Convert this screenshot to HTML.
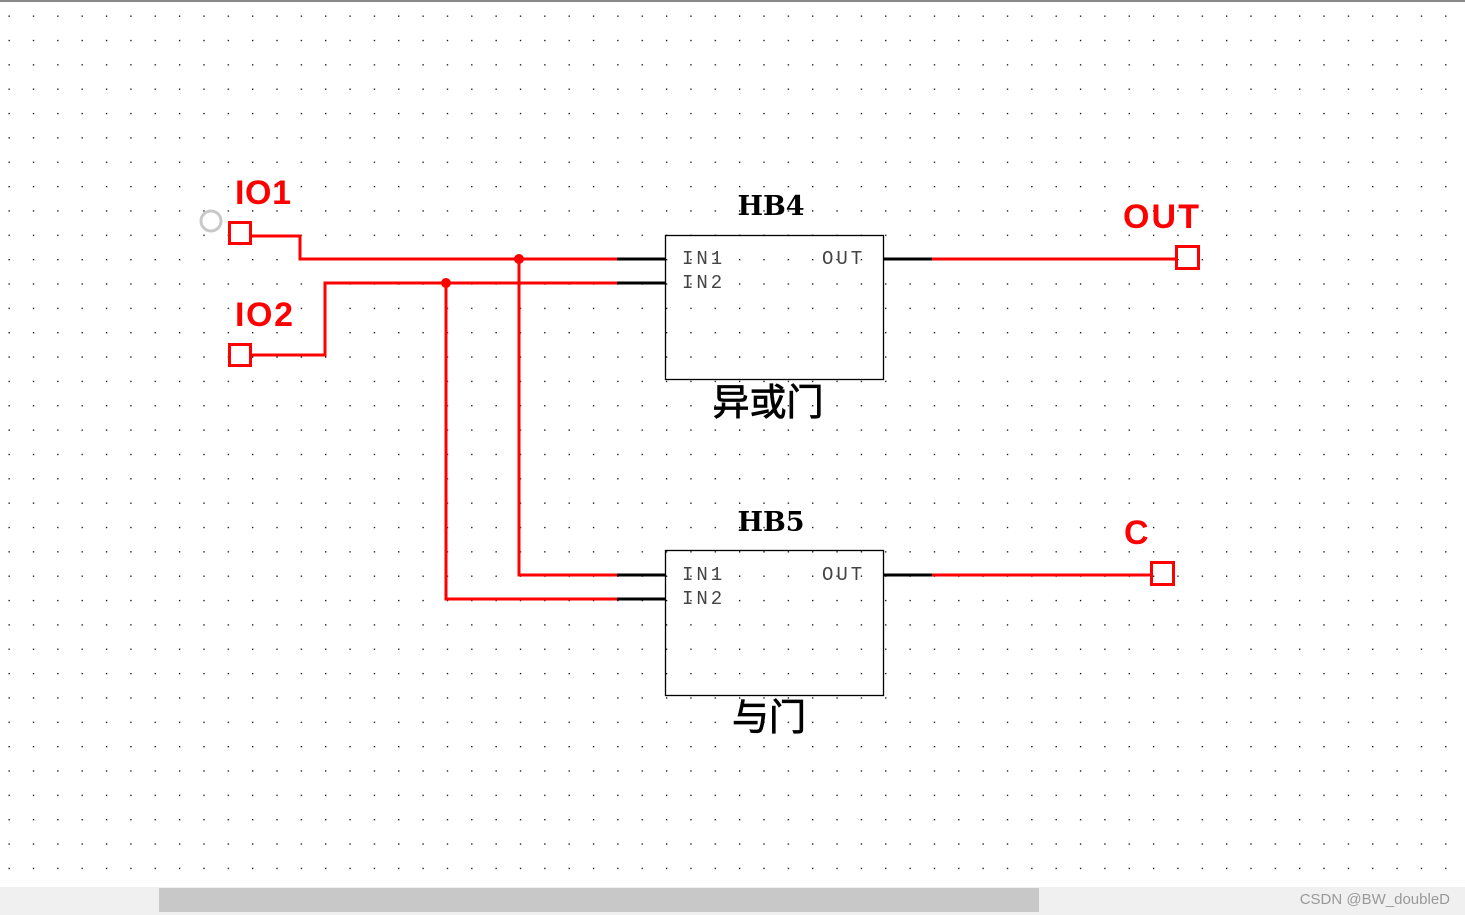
<!DOCTYPE html>
<html><head><meta charset="utf-8"><style>
html,body{margin:0;padding:0;background:#fff;width:1465px;height:915px;overflow:hidden}
svg{display:block}
</style></head><body>
<svg width="1465" height="915" xmlns="http://www.w3.org/2000/svg">
<defs>
<pattern id="g" x="8.5" y="15.5" width="24.35" height="24.35" patternUnits="userSpaceOnUse">
<rect x="0" y="0" width="1.3" height="1.3" fill="#000"/>
</pattern>
</defs>
<rect width="1465" height="887" fill="url(#g)"/>
<rect x="0" y="0" width="1465" height="2" fill="#888"/>
<g fill="none" stroke="#f00" stroke-width="3">
<polyline points="251,236 300,236 300,259 617,259"/>
<polyline points="251,355 325,355 325,283 617,283"/>
<polyline points="519,259 519,575 617,575"/>
<polyline points="446,283 446,599 617,599"/>
<line x1="932" y1="259" x2="1176" y2="259"/>
<line x1="932" y1="575" x2="1151" y2="575"/>
<rect x="229.5" y="222.5" width="21" height="21"/>
<rect x="229.5" y="344.5" width="21" height="21"/>
<rect x="1176.5" y="246.5" width="22" height="22"/>
<rect x="1151.5" y="562.5" width="22" height="22"/>
</g>
<circle cx="519" cy="259" r="5" fill="#f00"/>
<circle cx="446" cy="283" r="5" fill="#f00"/>
<circle cx="211" cy="221" r="10" fill="none" stroke="#c8c8c8" stroke-width="3"/>
<g stroke="#000" stroke-width="3">
<line x1="617" y1="259" x2="665" y2="259"/><line x1="617" y1="283" x2="665" y2="283"/>
<line x1="617" y1="575" x2="665" y2="575"/><line x1="617" y1="599" x2="665" y2="599"/>
<line x1="883" y1="259" x2="932" y2="259"/><line x1="883" y1="575" x2="932" y2="575"/>
</g>
<rect x="665.5" y="235.5" width="218" height="144" fill="none" stroke="#000" stroke-width="1.3"/>
<rect x="665.5" y="550.5" width="218" height="145" fill="none" stroke="#000" stroke-width="1.3"/>
<g font-family="Liberation Mono, monospace" font-size="19" fill="#444" letter-spacing="3">
<text x="682" y="264">IN1</text><text x="682" y="288">IN2</text><text x="822" y="264">OUT</text>
<text x="682" y="580">IN1</text><text x="682" y="604">IN2</text><text x="822" y="580">OUT</text>
</g>
<g font-family="DejaVu Serif, serif" font-weight="bold" font-size="27" fill="#000" text-anchor="middle">
<text x="771" y="215">HB4</text><text x="771" y="531">HB5</text>
</g>
<g font-family="Liberation Sans, 'Noto Sans CJK SC', sans-serif" font-size="37" fill="#000" stroke="#000" stroke-width="0.8" text-anchor="middle">
<text x="768" y="415">异或门</text><text x="769" y="730">与门</text>
</g>
<g font-family="Liberation Sans, sans-serif" font-weight="bold" font-size="34" fill="#f00">
<text x="235" y="204" textLength="56">IO1</text><text x="235" y="326" textLength="58">IO2</text>
<text x="1123" y="228" textLength="76">OUT</text><text x="1124" y="544">C</text>
</g>
<rect x="0" y="887" width="1465" height="28" fill="#f0f0f0"/>
<rect x="159" y="888" width="880" height="24" fill="#c8c8c8"/>
<text x="1450" y="904" text-anchor="end" font-family="Liberation Sans, sans-serif" font-size="15" fill="#999">CSDN @BW_doubleD</text>
</svg>
</body></html>
